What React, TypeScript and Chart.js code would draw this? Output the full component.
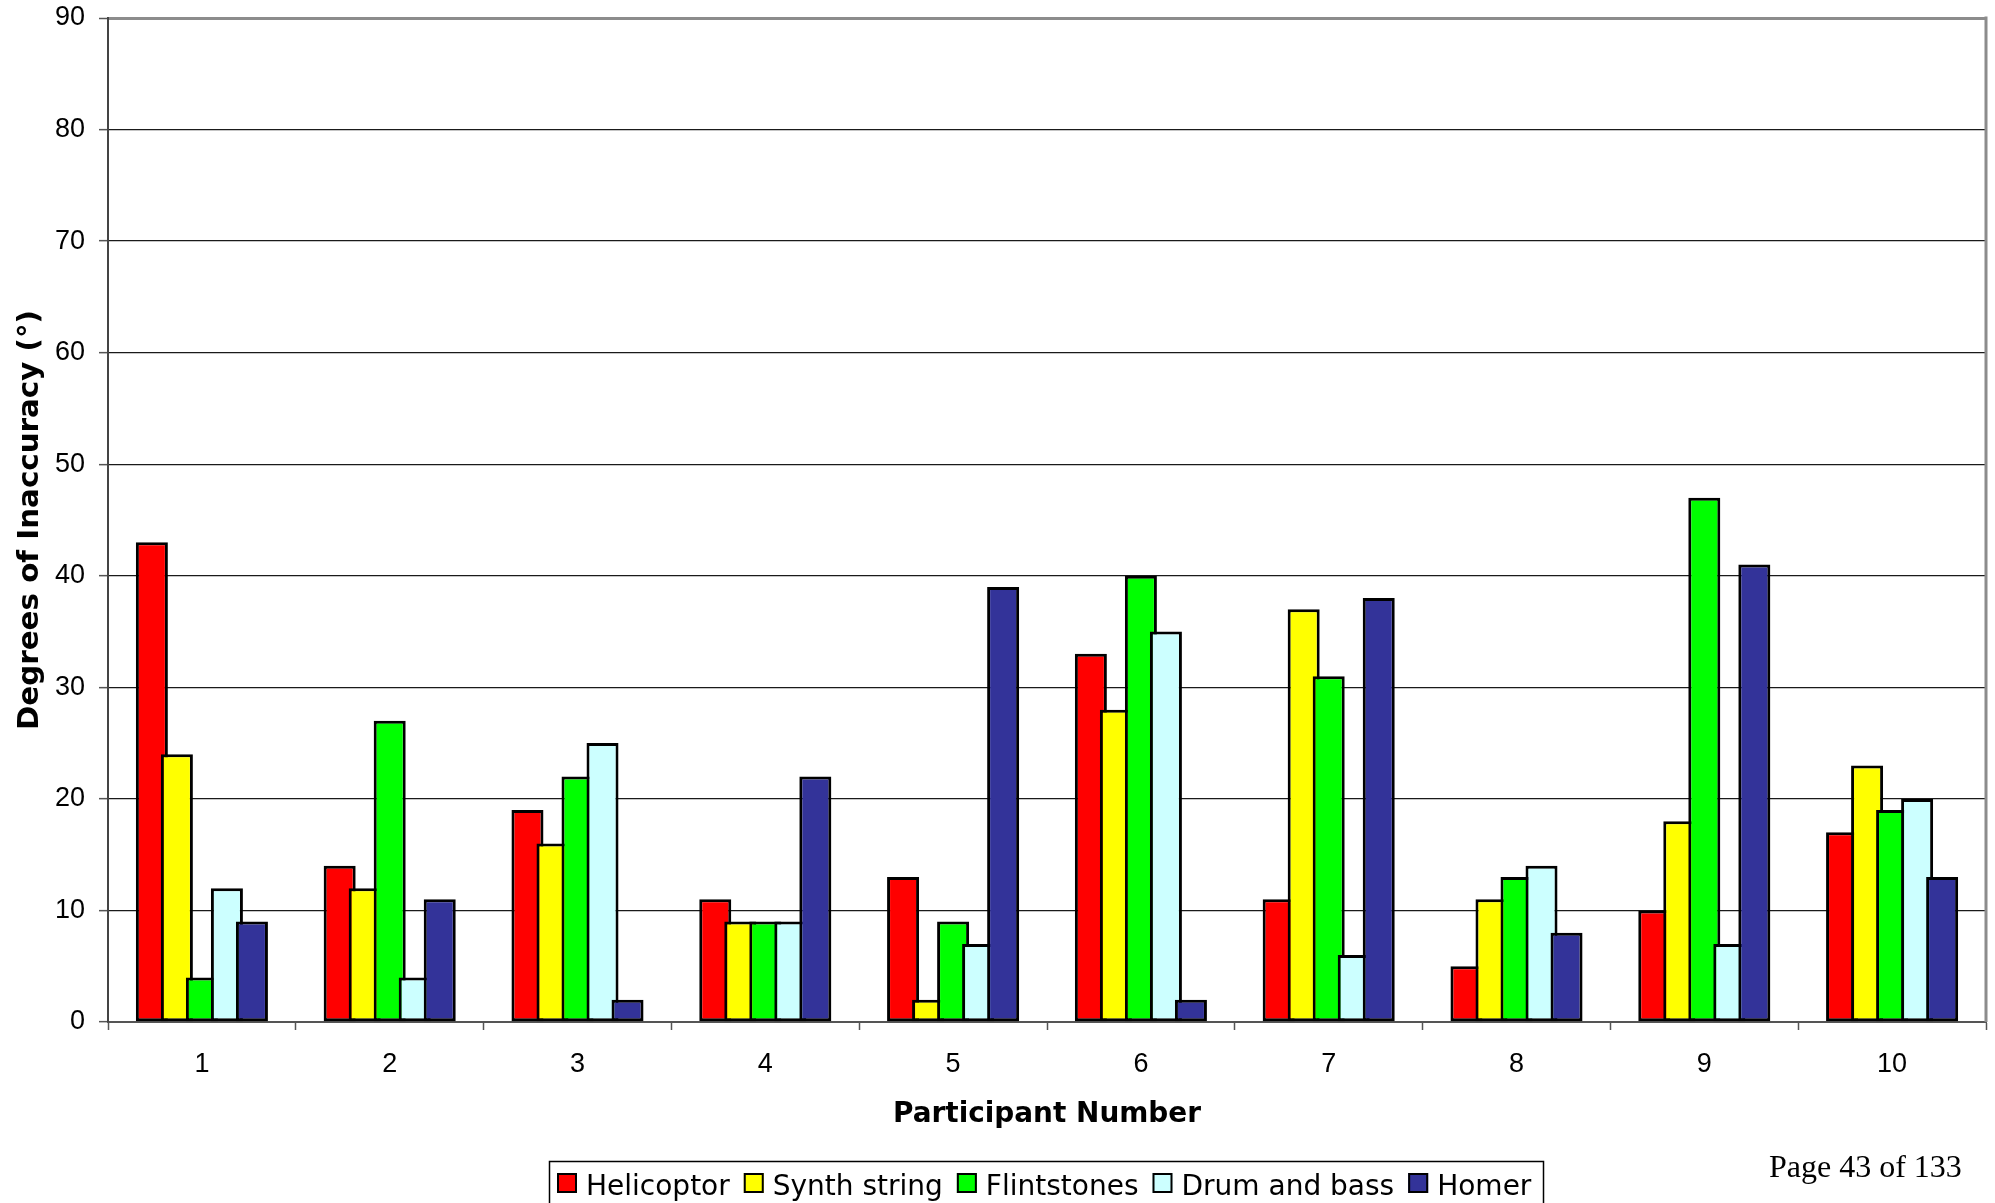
import { useEffect, useRef } from 'react';
import { Chart, registerables } from 'chart.js';

Chart.register(...registerables);

// Participants along the x axis
const participants = ['1', '2', '3', '4', '5', '6', '7', '8', '9', '10'];

// Degrees of inaccuracy per sound, one value per participant
const helicoptor = [43, 14, 19, 11, 13, 33, 11, 5, 10, 17];
const synthString = [24, 12, 16, 9, 2, 28, 37, 11, 18, 23];
const flintstones = [4, 27, 22, 9, 9, 40, 31, 13, 47, 19];
const drumAndBass = [12, 4, 25, 9, 7, 35, 6, 14, 7, 20];
const homer = [9, 11, 2, 22, 39, 2, 38, 8, 41, 13];

const seriesNames = ['Helicoptor', 'Synth string', 'Flintstones', 'Drum and bass', 'Homer'];
const seriesValues = [helicoptor, synthString, flintstones, drumAndBass, homer];
const seriesColors = ['#FF0000', '#FFFF00', '#00FF00', '#CCFFFF', '#333399'];

const yMin = 0;
const yMax = 90;
const yStep = 10;

const xTitle = 'Participant Number';
const yTitle = 'Degrees of Inaccuracy (°)';
const pageLabel = 'Page 43 of 133';

const SANS = "'Liberation Sans', Arial, sans-serif";
const VERDANA = "'DejaVu Sans', Verdana, sans-serif";
const SERIF = "'Liberation Serif', 'Times New Roman', serif";

// Later series are painted over earlier ones so neighbouring bars overlap left-to-right.
const layeringPlugin = {
  id: 'seriesLayering',
  beforeDatasetsDraw(chart: any) {
    for (let i = 0; i < chart.data.datasets.length; i++) {
      const meta = chart.getDatasetMeta(i);
      if (chart.isDatasetVisible(i)) meta.controller.draw();
    }
    return false;
  },
};

function drawTitle(
  ctx: CanvasRenderingContext2D,
  text: string,
  x: number,
  y: number,
  runLength: number,
  font: string,
  vertical: boolean,
) {
  ctx.save();
  ctx.translate(x, y);
  if (vertical) ctx.rotate(-Math.PI / 2);
  ctx.font = font;
  const w = ctx.measureText(text).width;
  ctx.scale(runLength / w, 1);
  ctx.textAlign = 'center';
  ctx.textBaseline = 'alphabetic';
  ctx.fillStyle = '#000';
  ctx.fillText(text, 0, 0);
  ctx.restore();
}

// Frame edge, axis titles, boxed legend and page footer
const decorPlugin = {
  id: 'decor',
  afterDraw(chart: any) {
    const { ctx, chartArea } = chart;
    const { left, right, top, bottom } = chartArea;

    ctx.save();
    ctx.strokeStyle = '#8c8c8c';
    ctx.lineWidth = 3;
    ctx.beginPath();
    ctx.moveTo(right, top - 1.5);
    ctx.lineTo(right, bottom);
    ctx.stroke();
    ctx.restore();

    drawTitle(ctx, xTitle, (left + right) / 2, 1122, 308, `bold 28px ${VERDANA}`, false);
    drawTitle(ctx, yTitle, 38, (top + bottom) / 2, 420, `bold 28px ${VERDANA}`, true);

    // Legend
    ctx.save();
    ctx.strokeStyle = '#000';
    ctx.lineWidth = 1.5;
    ctx.strokeRect(549.5, 1161.5, 994, 60);
    ctx.font = `28px ${VERDANA}`;
    ctx.textBaseline = 'alphabetic';
    ctx.textAlign = 'left';
    let x = 557;
    const boxTop = 1173;
    const baseline = 1195;
    seriesNames.forEach((name, i) => {
      ctx.fillStyle = seriesColors[i];
      ctx.fillRect(x, boxTop, 20, 20);
      ctx.strokeStyle = '#000';
      ctx.lineWidth = 2;
      ctx.strokeRect(x + 1, boxTop + 1, 18, 18);
      ctx.fillStyle = '#000';
      ctx.fillText(name, x + 29, baseline);
      x += 29 + ctx.measureText(name).width + 14;
    });
    ctx.restore();

    // Footer
    ctx.save();
    ctx.font = `32px ${SERIF}`;
    ctx.fillStyle = '#000';
    ctx.textAlign = 'left';
    ctx.textBaseline = 'alphabetic';
    ctx.fillText(pageLabel, 1769, 1177);
    ctx.restore();
  },
};

export default function App() {
  const canvasRef = useRef<HTMLCanvasElement>(null);

  useEffect(() => {
    document.body.style.margin = '0';
    const canvas = canvasRef.current;
    if (!canvas) return;

    const chart = new Chart(canvas, {
      type: 'bar',
      data: {
        labels: participants,
        datasets: seriesNames.map((name, i) => ({
          label: name,
          data: seriesValues[i],
          backgroundColor: seriesColors[i],
          borderColor: '#000',
          borderWidth: 3,
          borderSkipped: false,
          categoryPercentage: 0.666,
          barPercentage: 1.28,
        })),
      },
      options: {
        responsive: false,
        animation: false,
        devicePixelRatio: 1,
        layout: { padding: { top: 18, right: 9, bottom: 0, left: 0 } },
        plugins: {
          legend: { display: false },
          tooltip: { enabled: false },
        },
        scales: {
          x: {
            offset: true,
            afterFit(scale: any) {
              scale.height = 181;
              scale.paddingLeft = 0;
              scale.paddingRight = 0;
            },
            grid: {
              offset: true,
              drawOnChartArea: false,
              drawTicks: true,
              tickLength: 8,
              tickColor: '#555',
              tickWidth: 1.5,
            },
            border: { color: '#555', width: 2 },
            ticks: {
              color: '#000',
              padding: 18,
              font: { family: SANS, size: 27 },
              maxRotation: 0,
            },
          },
          y: {
            min: yMin,
            max: yMax,
            afterFit(scale: any) {
              scale.width = 108;
              scale.paddingTop = 0;
              scale.paddingBottom = 0;
            },
            grid: {
              color: (c: any) => (c.tick && c.tick.value === yMax ? '#8c8c8c' : '#1a1a1a'),
              lineWidth: (c: any) => (c.tick && c.tick.value === yMax ? 3 : 1.3),
              tickLength: 9,
              tickColor: '#555',
              tickWidth: 1.5,
            },
            border: { color: '#444', width: 2 },
            ticks: {
              stepSize: yStep,
              color: '#000',
              padding: 14,
              font: { family: SANS, size: 27 },
            },
          },
        },
      },
      plugins: [layeringPlugin, decorPlugin],
    } as any);

    return () => chart.destroy();
  }, []);

  return (
    <div style={{ position: 'absolute', left: 0, top: 0, width: 1995, height: 1203, background: '#fff' }}>
      <canvas ref={canvasRef} width={1995} height={1203} style={{ display: 'block' }} />
    </div>
  );
}
